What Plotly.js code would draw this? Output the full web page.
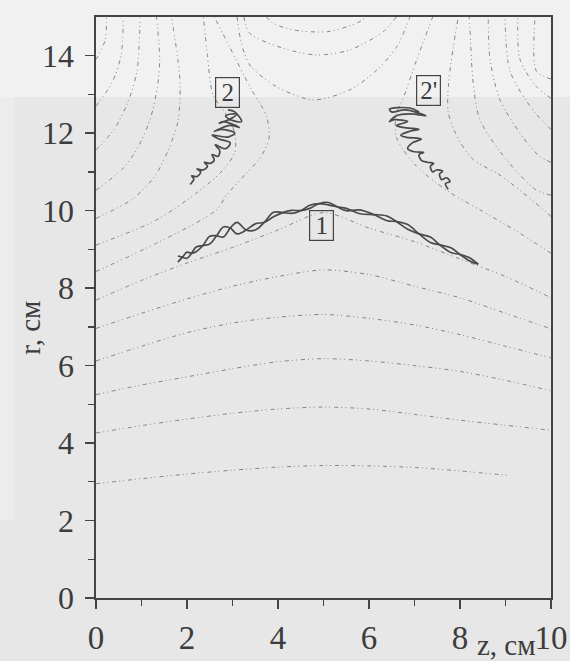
<!DOCTYPE html>
<html><head><meta charset="utf-8">
<script src="https://cdn.plot.ly/plotly-3.0.1.min.js"></script>
<style>html,body{margin:0;padding:0;background:#e8e8e8}</style>
</head><body><div id="chart" style="width:570px;height:661px"></div>
<script>
// ---- axis ticks ----
const xTicks = [0, 2, 4, 6, 8, 10];
const xMinor = [1, 3, 5, 7, 9];
const yTicks = [0, 2, 4, 6, 8, 10, 12, 14];
const yMinor = [1, 3, 5, 7, 9, 11, 13];

// ---- field lines: lower arches (z grid) ----
const zGrid = [0, 1, 2, 3, 4, 5, 6, 7, 8, 9, 10];
const L1z = [0, 1, 2, 3, 4, 5, 6, 7, 8, 9.1];
const L1r = [2.95, 3.08, 3.2, 3.3, 3.38, 3.42, 3.41, 3.37, 3.28, 3.16];
const L2r = [4.26, 4.45, 4.62, 4.77, 4.88, 4.93, 4.88, 4.74, 4.59, 4.46, 4.33];
const L3r = [5.25, 5.5, 5.71, 5.92, 6.1, 6.18, 6.12, 6.0, 5.85, 5.62, 5.35];
const L4r = [6.12, 6.5, 6.85, 7.1, 7.25, 7.32, 7.22, 7.05, 6.8, 6.5, 6.2];
const L5r = [6.96, 7.35, 7.72, 8.05, 8.3, 8.47, 8.35, 8.05, 7.75, 7.35, 6.95];
const L6r = [7.69, 8.2, 8.65, 9.05, 9.5, 9.95, 9.55, 9.2, 8.75, 8.3, 7.75];

// ---- field lines around left coil ----
const L7z = [0, 1.33, 2.65, 2.87, 3.3, 3.6, 3.8, 3.75, 3.38, 2.95, 2.6];
const L7r = [8.43, 9.16, 10.02, 10.4, 10.96, 11.35, 11.85, 12.43, 13.2, 14.2, 15];
const L8z = [0, 1.33, 2.2, 2.75, 3.05, 3.05, 2.85, 2.57, 2.45, 2.36];
const L8r = [9.11, 9.76, 10.45, 11.0, 11.5, 12.0, 12.5, 13.0, 14.0, 15];
const L9z = [0, 0.8, 1.3, 1.6, 1.8, 1.85, 1.8, 1.66];
const L9r = [9.8, 10.3, 10.9, 11.6, 12.3, 13.2, 13.9, 15];
const L10z = [0, 0.6, 0.95, 1.2, 1.35, 1.4, 1.33];
const L10r = [10.53, 11.1, 11.7, 12.4, 13.2, 13.9, 15];
const L11z = [0, 0.4, 0.7, 0.9, 0.97];
const L11r = [11.57, 12.1, 12.8, 13.6, 15];
const L12z = [0, 0.35, 0.55, 0.6];
const L12r = [12.7, 13.3, 14.0, 15];
const L13z = [0, 0.2, 0.23];
const L13r = [13.9, 14.4, 15];

// ---- field lines around right coil ----
const R7z = [10, 9.2, 8.44, 7.7, 7.0, 6.6, 6.6, 6.75, 7.05, 7.4];
const R7r = [8.9, 9.5, 10.02, 10.53, 11.2, 11.9, 12.5, 12.9, 13.9, 15];
const R8z = [10, 9.76, 8.9, 8.26, 7.9, 7.74, 7.75, 7.85, 7.96];
const R8r = [9.85, 10.1, 10.9, 11.35, 12.0, 12.55, 13.3, 14.2, 15];
const R9z = [10, 9.68, 9.03, 8.44, 8.29, 8.22, 8.2];
const R9r = [10.4, 10.53, 11.3, 12.34, 13.3, 14.67, 15];
const R10z = [10, 9.76, 9.38, 8.88, 8.66, 8.62];
const R10r = [11.25, 11.39, 11.9, 12.86, 13.9, 15];
const R11z = [10, 9.6, 9.1, 8.99];
const R11r = [12.1, 12.6, 13.6, 15];
const R12z = [10, 9.68, 9.32, 9.27];
const R12r = [12.9, 13.2, 13.9, 15];
const R13z = [10, 9.68, 9.65];
const R13r = [13.4, 13.6, 15];

// ---- field lines above the null (top centre) ----
const U1z = [3.75, 3.89, 4.33, 5.08, 5.73, 5.95];
const U1r = [15, 14.84, 14.67, 14.62, 14.84, 15];
const U2z = [3.25, 3.38, 4.12, 4.85, 5.58, 6.31, 6.6];
const U2r = [15, 14.58, 14.19, 14.02, 14.15, 14.62, 15];
const U3z = [3.1, 3.2, 3.38, 3.97, 4.78, 5.58, 6.17, 6.61, 6.9];
const U3r = [15, 14.3, 13.76, 13.2, 12.86, 13.12, 13.63, 14.23, 15];

// ---- trajectory 1 (two twisted strands) ----
const T1z = [1.8, 1.9, 2.0, 2.1, 2.2, 2.35, 2.5, 2.65, 2.8, 2.95, 3.1, 3.3, 3.5, 3.7, 3.9, 4.1, 4.3, 4.5, 4.7, 4.9, 5.1, 5.3, 5.5, 5.8, 6.1, 6.4, 6.6, 6.85, 7.1, 7.35, 7.55, 7.8, 8.0, 8.2, 8.4];
const T1a = [8.83, 8.80, 8.77, 8.90, 9.06, 9.10, 9.14, 9.35, 9.58, 9.55, 9.40, 9.50, 9.66, 9.70, 9.84, 9.95, 10.01, 10.00, 10.06, 10.18, 10.21, 10.10, 10.00, 10.02, 9.90, 9.74, 9.72, 9.64, 9.40, 9.18, 9.12, 9.04, 8.87, 8.71, 8.62];
const T1b = [8.67, 8.80, 8.93, 8.90, 8.94, 9.10, 9.34, 9.35, 9.32, 9.55, 9.70, 9.50, 9.50, 9.70, 9.96, 9.95, 9.93, 10.00, 10.14, 10.18, 10.15, 10.10, 10.06, 9.92, 9.90, 9.86, 9.72, 9.52, 9.40, 9.32, 9.12, 8.92, 8.87, 8.79, 8.62];

// ---- trajectory 2 (left scribble) ----
const T2z = [2.07, 2.15, 2.1, 2.22, 2.3, 2.22, 2.35, 2.45, 2.38, 2.5, 2.6, 2.55, 2.68, 2.72, 2.62, 2.85, 2.95, 2.7, 2.55, 2.9, 3.05, 2.75, 2.6, 2.95, 3.15, 2.8, 2.7, 3.0, 3.1, 2.85, 2.95, 3.2, 3.05, 2.9];
const T2r = [10.68, 10.82, 10.9, 10.88, 11.0, 11.08, 11.05, 11.15, 11.25, 11.22, 11.3, 11.45, 11.4, 11.55, 11.7, 11.6, 11.75, 11.85, 11.95, 11.9, 12.0, 12.1, 12.05, 12.2, 12.15, 12.3, 12.25, 12.4, 12.5, 12.45, 12.35, 12.3, 12.55, 12.6];

// ---- trajectory 2' (right scribble) ----
const T2pz = [7.74, 7.68, 7.78, 7.7, 7.6, 7.55, 7.62, 7.48, 7.4, 7.35, 7.42, 7.28, 7.15, 7.1, 7.2, 7.0, 6.85, 6.95, 7.15, 6.8, 6.7, 6.9, 7.1, 6.75, 6.6, 6.85, 6.55, 6.45, 6.6, 6.9, 7.25, 6.8, 6.5, 6.45, 6.9, 7.1];
const T2pr = [10.55, 10.7, 10.75, 10.85, 10.8, 10.95, 11.02, 11.05, 11.0, 11.15, 11.22, 11.25, 11.3, 11.45, 11.5, 11.52, 11.6, 11.75, 11.85, 11.9, 11.95, 12.05, 12.1, 12.15, 12.2, 12.3, 12.35, 12.3, 12.45, 12.5, 12.45, 12.6, 12.55, 12.62, 12.65, 12.55];

// ---- label boxes ----
const boxText = ['1', '2', "2'"];
const boxZ = [4.95, 2.9, 7.3];
const boxR = [9.63, 13.04, 13.09];

const fieldLines = [
  [L1z, L1r], [zGrid, L2r], [zGrid, L3r], [zGrid, L4r], [zGrid, L5r], [zGrid, L6r],
  [L7z, L7r], [L8z, L8r], [L9z, L9r], [L10z, L10r], [L11z, L11r], [L12z, L12r], [L13z, L13r],
  [R7z, R7r], [R8z, R8r], [R9z, R9r], [R10z, R10r], [R11z, R11r], [R12z, R12r], [R13z, R13r],
  [U1z, U1r], [U2z, U2r], [U3z, U3r]
];

const traces = [];
fieldLines.forEach(function (p) {
  traces.push({
    x: p[0], y: p[1], mode: 'lines', hoverinfo: 'skip', showlegend: false,
    line: {color: '#858585', width: 1, dash: '4px,3px,1px,3px,1px,4px', shape: 'spline', smoothing: 0.8}
  });
});
const trajStyle = {color: '#4a4a4a', width: 1.7, shape: 'spline', smoothing: 1};
traces.push({x: T1z, y: T1a, mode: 'lines', line: trajStyle, hoverinfo: 'skip', showlegend: false});
traces.push({x: T1z, y: T1b, mode: 'lines', line: trajStyle, hoverinfo: 'skip', showlegend: false});
traces.push({x: T2z, y: T2r, mode: 'lines', line: {color: '#4a4a4a', width: 1.7, shape: 'spline', smoothing: 1}, hoverinfo: 'skip', showlegend: false});
traces.push({x: T2pz, y: T2pr, mode: 'lines', line: {color: '#4a4a4a', width: 1.7, shape: 'spline', smoothing: 1}, hoverinfo: 'skip', showlegend: false});

const serif = 'Liberation Serif';
const annotations = boxText.map(function (t, i) {
  return {x: boxZ[i], y: boxR[i], xref: 'x', yref: 'y', text: t, showarrow: false,
    xanchor: 'center', yanchor: 'middle',
    font: {family: serif, size: 25, color: '#3c3c3c'},
    bordercolor: '#444', borderwidth: 1.2, borderpad: 1, width: 21, height: 27};
});
annotations.push({xref: 'paper', yref: 'paper', x: -0.145, y: 0.465, text: 'r, см', textangle: -90,
  xanchor: 'center', yanchor: 'middle',
  showarrow: false, font: {family: serif, size: 29, color: '#3c3c3c'}});
annotations.push({xref: 'paper', yref: 'paper', x: 0.903, y: -0.081, text: 'z, см',
  xanchor: 'center', yanchor: 'middle',
  showarrow: false, font: {family: serif, size: 29, color: '#3c3c3c'}});

const axisCommon = {
  ticks: 'outside', ticklen: 9, tickwidth: 1.5, tickcolor: '#444',
  showline: true, linecolor: '#444', linewidth: 1.6, mirror: true,
  showgrid: false, zeroline: false
};

const layout = {
  width: 570, height: 661,
  margin: {l: 96, r: 19, t: 17, b: 63},
  paper_bgcolor: '#e7e7e7', plot_bgcolor: 'rgba(0,0,0,0)',
  font: {family: serif},
  showlegend: false,
  xaxis: Object.assign({}, axisCommon, {range: [0, 10], tickvals: xTicks, ticktext: xTicks.map(String),
    ticklabelstandoff: 1,
    tickfont: {family: serif, size: 33, color: '#3c3c3c'},
    minor: {tickvals: xMinor, ticks: 'outside', ticklen: 6, tickwidth: 1.3, tickcolor: '#444'}}),
  yaxis: Object.assign({}, axisCommon, {range: [0, 15], tickvals: yTicks, ticktext: yTicks.map(String),
    ticklabelstandoff: 5,
    tickfont: {family: serif, size: 32, color: '#3c3c3c'},
    minor: {tickvals: yMinor, ticks: 'outside', ticklen: 6, tickwidth: 1.3, tickcolor: '#444'}}),
  shapes: [
    {type: 'rect', xref: 'paper', yref: 'paper', x0: -0.3, x1: 1.1, y0: 0.8623, y1: 1.1,
      fillcolor: '#f1f1f1', line: {width: 0}, layer: 'below'},
    {type: 'rect', xref: 'paper', yref: 'paper', x0: -0.3, x1: -0.18, y0: 0.134, y1: 0.8623,
      fillcolor: '#ececec', line: {width: 0}, layer: 'below'}
  ],
  annotations: annotations
};

Plotly.newPlot('chart', traces, layout, {displayModeBar: false, staticPlot: true});
</script></body></html>
